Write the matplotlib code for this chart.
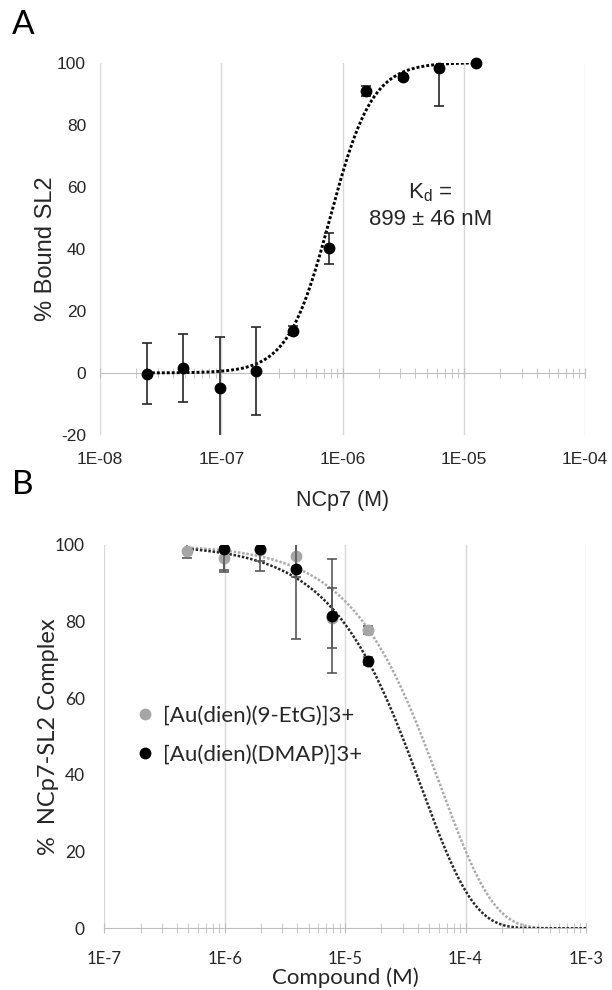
import numpy as np
import matplotlib.pyplot as plt
from matplotlib.ticker import FixedLocator, FuncFormatter, LogLocator, NullFormatter, NullLocator

plt.rcParams['axes.unicode_minus'] = False

# ---- panel A: NCp7 titration of SL2
ncp7_conc = [2.44e-8, 4.88e-8, 9.77e-8, 1.95e-7, 3.91e-7, 7.81e-7, 1.56e-6, 3.13e-6, 6.25e-6, 1.25e-5]
bound_pct = [-0.3, 1.5, -4.7, 0.6, 13.6, 40.2, 90.8, 95.4, 98.4, 100.0]
bound_err = [9.8, 11.0, 16.3, 14.2, 1.5, 5.0, 1.5, 1.0, 12.5, 0.5]
# Hill fit parameters
hill_mid = 7.9e-7
hill_n = 2.5
a_ticks = [1e-8, 1e-7, 1e-6, 1e-5, 1e-4]

# ---- panel B: displacement by the gold compounds
etg_conc = [4.88e-7, 9.77e-7, 1.95e-6, 3.91e-6, 7.81e-6, 1.56e-5]
etg_pct = [98.3, 96.4, 98.5, 97.1, 80.8, 77.7]
etg_err = [1.9, 3.0, 2.8, 5.5, 7.8, 1.0]
dmap_conc = [9.77e-7, 1.95e-6, 3.91e-6, 7.81e-6, 1.56e-5]
dmap_pct = [98.7, 98.7, 93.6, 81.4, 69.7]
dmap_err = [5.8, 5.5, 18.3, 14.9, 1.0]
# exponential trendlines  y = 100 * exp(-k x)
etg_k = 1.6e4
dmap_k = 2.33e4
b_ticks = [1e-7, 1e-6, 1e-5, 1e-4, 1e-3]
series_names = ['[Au(dien)(9-EtG)]3+', '[Au(dien)(DMAP)]3+']

font_a = ['Liberation Sans Narrow', 'Liberation Sans', 'DejaVu Sans']
font_b = ['Lato', 'DejaVu Sans']
txt = '#262626'
axis_grey = '#bfbfbf'
grid_grey = '#d9d9d9'
dots = (0, (1, 0.7))

fig = plt.figure(figsize=(6.12, 9.9), dpi=100)
W, H = 612, 990
axA = fig.add_axes([100 / W, 1 - 435 / H, 485 / W, 372.4 / H])
axB = fig.add_axes([104.3 / W, 1 - 928.3 / H, 481.7 / W, 383.8 / H])

# ---------------- panel A
axA.set_xscale('log')
xa = np.logspace(np.log10(ncp7_conc[0]), np.log10(ncp7_conc[-1]), 300)
axA.plot(xa, 100 * xa**hill_n / (hill_mid**hill_n + xa**hill_n),
         color='black', ls=dots, lw=2.1, zorder=3)
ebA = axA.errorbar(ncp7_conc, bound_pct, yerr=bound_err, fmt='o', color='black',
                   ms=7.5, ecolor='#262626', elinewidth=1.2, capsize=3.6, capthick=1.2, zorder=4)
ebA[0].set_clip_on(False)
axA.set_xlim(1e-8, 1e-4)
axA.set_ylim(-20, 100)
axA.set_yticks(range(-20, 101, 20))
axA.xaxis.grid(True, which='major', color=grid_grey, lw=1)
axA.set_axisbelow(True)
for s in ['top', 'right', 'left']:
    axA.spines[s].set_visible(False)
axA.spines['bottom'].set_position(('data', 0))
axA.spines['bottom'].set_color(axis_grey)
axA.xaxis.set_major_locator(FixedLocator(a_ticks))
axA.xaxis.set_minor_locator(LogLocator(base=10, subs=np.arange(2, 10)))
axA.xaxis.set_minor_formatter(NullFormatter())
axA.tick_params(axis='x', which='both', direction='inout', length=7, color=axis_grey,
                labelbottom=False)
axA.tick_params(axis='y', length=0, pad=10, labelsize=12.5, labelcolor=txt)
for lab in axA.get_yticklabels():
    lab.set_family(font_a)
axA.set_ylabel('% Bound SL2', fontsize=17, color=txt, family=font_a, labelpad=0)

secA = axA.secondary_xaxis('bottom')
secA.set_xticks(a_ticks)
secA.xaxis.set_minor_locator(NullLocator())
secA.xaxis.set_major_formatter(FuncFormatter(lambda v, p: f"1E-{-int(round(np.log10(v))):02d}"))
secA.tick_params(length=0, pad=12, labelsize=12.5, labelcolor=txt)
secA.spines['bottom'].set_visible(False)
for lab in secA.get_xticklabels():
    lab.set_family(font_a)
secA.set_xlabel('NCp7 (M)', fontsize=15.5, color=txt, family=font_a, labelpad=17)

axA.text(5.3e-6, 54, '$\\mathregular{K_d}$ =\n899 ± 46 nM', ha='center', va='center',
         fontsize=16, color=txt, family=font_a, linespacing=1.3)

# ---------------- panel B
axB.set_xscale('log')
xb = np.logspace(np.log10(etg_conc[0]), -3, 400)
axB.plot(xb, 100 * np.exp(-etg_k * xb), color='#ababab', ls=dots, lw=1.8, zorder=2)
axB.plot(xb, 100 * np.exp(-dmap_k * xb), color='#262626', ls=dots, lw=1.8, zorder=3)
eb1 = axB.errorbar(etg_conc, etg_pct, yerr=etg_err, fmt='o', color='#a6a6a6', ms=7.5,
                   ecolor='#595959', elinewidth=1.2, capsize=3.6, capthick=1.2, zorder=4)
eb2 = axB.errorbar(dmap_conc, dmap_pct, yerr=dmap_err, fmt='o', color='black', ms=7.5,
                   ecolor='#595959', elinewidth=1.2, capsize=3.6, capthick=1.2, zorder=5)
axB.set_xlim(1e-7, 1e-3)
axB.set_ylim(0, 100)
axB.set_yticks(range(0, 101, 20))
axB.xaxis.grid(True, which='major', color=grid_grey, lw=1)
axB.set_axisbelow(True)
for s in ['top', 'right', 'left']:
    axB.spines[s].set_visible(False)
axB.spines['bottom'].set_color(axis_grey)
axB.xaxis.set_major_locator(FixedLocator(b_ticks))
axB.xaxis.set_minor_locator(LogLocator(base=10, subs=np.arange(2, 10)))
axB.xaxis.set_minor_formatter(NullFormatter())
axB.xaxis.set_major_formatter(FuncFormatter(lambda v, p: f"1E-{-int(round(np.log10(v)))}"))
axB.tick_params(axis='x', which='both', direction='inout', length=7, color=axis_grey,
                pad=13, labelsize=12, labelcolor=txt)
axB.tick_params(axis='y', length=0, pad=14, labelsize=12.5, labelcolor=txt)
for lab in axB.get_xticklabels() + axB.get_yticklabels():
    lab.set_family(font_b)
axB.set_xlabel('Compound (M)', fontsize=16, color=txt, family=font_b, labelpad=0)
axB.set_ylabel('%  NCp7-SL2 Complex', fontsize=17, color=txt, family=font_b, labelpad=-3)
axB.legend([eb1[0], eb2[0]], series_names, loc='center left', bbox_to_anchor=(0.062, 0.504),
           frameon=False, handlelength=1.0, handletextpad=0.3, borderpad=0, borderaxespad=0,
           labelspacing=0.85, prop={'family': font_b, 'size': 16}, labelcolor=txt)

fig.text(23 / W, 1 - 25 / H, 'A', fontsize=24, ha='center', va='center', color='black', family=font_b)
fig.text(23 / W, 1 - 485 / H, 'B', fontsize=24, ha='center', va='center', color='black', family=font_b)

fig.savefig('out.png', dpi=100)
